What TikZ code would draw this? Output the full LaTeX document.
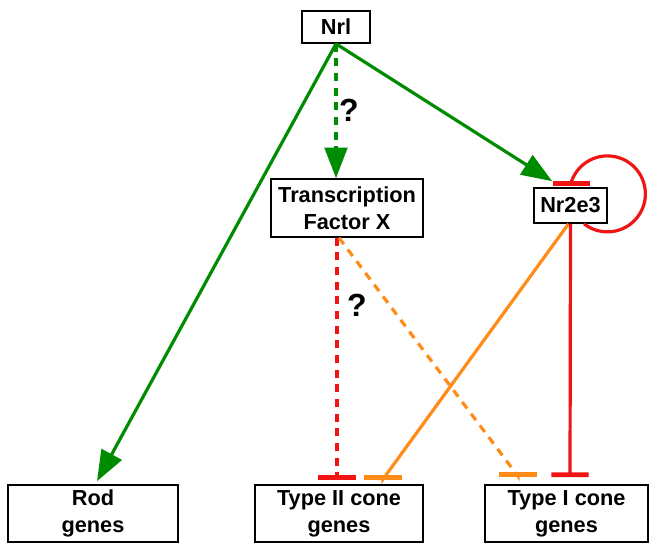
\documentclass[tikz,border=0pt]{standalone}
\usepackage{fontspec}
\setmainfont{Liberation Sans}
\usepackage{xcolor}
\usetikzlibrary{arrows.meta,calc}
\definecolor{actgreen}{RGB}{0,140,0}
\definecolor{repred}{RGB}{240,20,20}
\definecolor{reporange}{RGB}{255,140,25}
\begin{document}
\begin{tikzpicture}[x=0.75pt,y=-0.75pt,
    genebox/.style={draw, line width=1.2pt, fill=white, align=center, inner sep=1pt,
        font=\fontsize{16.3}{20.3}\selectfont\bfseries},
    activate/.style={actgreen, line width=2.4pt, -{Triangle[length=23pt,width=17pt]}},
    repress/.style={line width=2.4pt, -{Bar[width=28pt,line width=3.6pt]}},
    guess/.style={dash pattern=on 6pt off 5pt},
    query/.style={font=\fontsize{24}{28}\selectfont\bfseries}]
                \useasboundingbox (0,0) rectangle (649,544);
                \node [genebox, minimum width=51pt, minimum height=24pt] (nrl) at (336,27) {Nrl};
                \node [genebox, minimum width=114pt, minimum height=43.5pt] (tfx) at (347,208) {Transcription\\Factor X};
                \node [genebox, minimum width=54.75pt, minimum height=26.25pt] (nr2e3) at (570.5,205.5) {Nr2e3};
                \node [genebox, minimum width=127.5pt, minimum height=42.75pt] (rod) at (93,513.5) {Rod\\genes};
                \node [genebox, minimum width=126pt, minimum height=42.75pt] (typeII) at (339,513.5) {Type II cone\\genes};
                \node [genebox, minimum width=122.25pt, minimum height=42.75pt] (typeI) at (566.5,513.5) {Type I cone\\genes};
                % activation by Nrl
                \draw [activate] (nrl.south) -- ($(rod.north)+(4,-3)$);
                \draw [activate, guess] (nrl.south) -- (nrl.south |- tfx.north);
                \draw [activate] (nrl.south) -- ($(nr2e3.north west)+(19,-6)$);
                \node [query] (q1) at (349,110) {?};
                % repression of cone genes
                \draw [repress, repred, guess] ($(tfx.south)+(-10,0)$) -- ($(typeII.north)+(-2,-4)$);
                \draw [repress, reporange, guess] ($(tfx.south)+(-8,0)$) -- ($(typeI.north)+(-48.5,-8)$) -- ++(0,1);
                \draw [repress, reporange] ($(nr2e3.south)+(-2,0)$) -- ($(typeII.north)+(44,-5)$) -- ++(0,1);
                \draw [repress, repred] (nr2e3.south) -- ($(typeI.north)+(3.5,-7)$);
                \node [query] (q2) at (357,305) {?};
                % self repression of Nr2e3
                \draw [repress, repred] ($(nr2e3.south)+(13.5,0)$) arc [start angle=128, end angle=-160, radius=38] -- ++(0,5);
            \end{tikzpicture}
\end{document}
